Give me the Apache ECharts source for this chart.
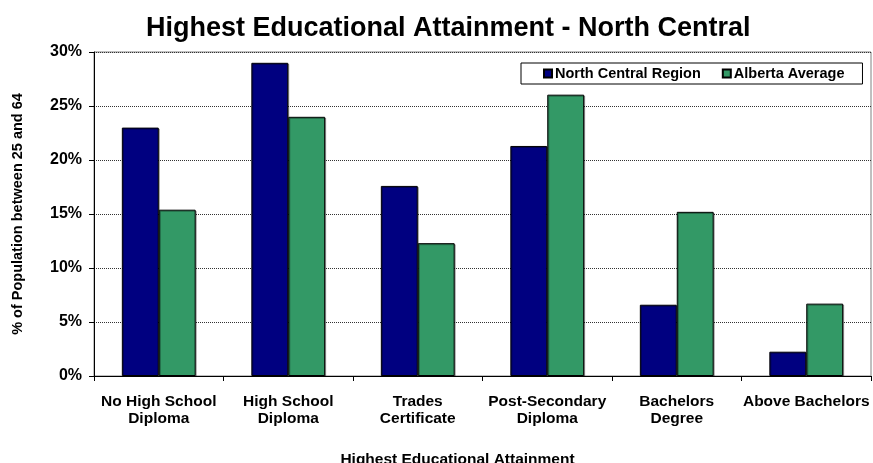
<!DOCTYPE html>
<html>
<head>
<meta charset="utf-8">
<script src="https://cdn.jsdelivr.net/npm/echarts@6/dist/echarts.min.js"></script>
<style>html,body{margin:0;padding:0;background:#fff}#c{width:873px;height:463px}</style>
</head>
<body>
<div id="c"></div>
<script>
const categories = ["No High School\nDiploma", "High School\nDiploma", "Trades\nCertificate", "Post-Secondary\nDiploma", "Bachelors\nDegree", "Above Bachelors"];
const northCentral = [23.0, 29.0, 17.6, 21.3, 6.6, 2.25];
const albertaAvg = [15.4, 24.0, 12.3, 26.05, 15.2, 6.7];
const seriesNames = ["North Central Region", "Alberta Average"];
const yTicks = [0, 5, 10, 15, 20, 25, 30];

const FONT = "'Liberation Sans', Arial, sans-serif";
const chart = echarts.init(document.getElementById('c'), null, {renderer: 'canvas'});
const barStyle = (c) => ({color: c, borderColor: '#000', borderWidth: 1, shadowColor: 'rgba(0,0,0,0.35)', shadowOffsetX: 1, shadowOffsetY: 1, shadowBlur: 0});
chart.setOption({
  animation: false,
  backgroundColor: '#fff',
  title: {
    text: 'Highest Educational Attainment - North Central',
    left: 141, top: 10,
    textStyle: {fontFamily: FONT, fontSize: 27, fontWeight: 'bold', color: '#000'}
  },
  legend: {
    data: seriesNames,
    left: 521, top: 63,
    icon: 'rect', itemWidth: 8, itemHeight: 8, itemGap: 21,
    padding: [3, 18, 3, 22],
    borderColor: '#000', borderWidth: 1, backgroundColor: '#fff',
    textStyle: {fontFamily: FONT, fontSize: 14.5, fontWeight: 'bold', color: '#000', padding: [0, 0, 0, -2]}
  },
  grid: {left: 94, right: 2, top: 52, bottom: 87, show: true, borderColor: '#808080', borderWidth: 1,
    containLabel: false, outerBoundsMode: 'none'},
  xAxis: {
    type: 'category', data: categories,
    name: 'Highest Educational Attainment', nameLocation: 'middle', nameGap: 76,
    nameTextStyle: {fontFamily: FONT, fontSize: 15.5, fontWeight: 'bold', color: '#000', padding: [0, 50, 0, 0]},
    axisLine: {lineStyle: {color: '#000', width: 1}},
    axisTick: {show: true, length: 5, lineStyle: {color: '#000'}},
    axisLabel: {fontFamily: FONT, fontSize: 15.5, fontWeight: 'bold', color: '#000', lineHeight: 17, margin: 17, interval: 0}
  },
  yAxis: {
    type: 'value', min: 0, max: 30, interval: 5,
    name: '% of Population between 25 and 64', nameLocation: 'middle', nameGap: 69,
    nameTextStyle: {fontFamily: FONT, fontSize: 14.5, fontWeight: 'bold', color: '#000'},
    axisLine: {show: true, lineStyle: {color: '#000', width: 1}},
    axisTick: {show: true, length: 5, lineStyle: {color: '#000'}},
    axisLabel: {fontFamily: FONT, fontSize: 16, fontWeight: 'bold', color: '#000', margin: 12,
      formatter: (v) => yTicks.indexOf(v) >= 0 ? v + '%' : ''},
    splitLine: {show: true, lineStyle: {type: 'dotted', color: '#333', width: 1}}
  },
  series: [
    {name: seriesNames[0], type: 'bar', data: northCentral, barGap: '0%', barCategoryGap: '43%', itemStyle: barStyle('#000080')},
    {name: seriesNames[1], type: 'bar', data: albertaAvg, barGap: '0%', barCategoryGap: '43%', itemStyle: barStyle('#339966')}
  ]
});
</script>
</body>
</html>
